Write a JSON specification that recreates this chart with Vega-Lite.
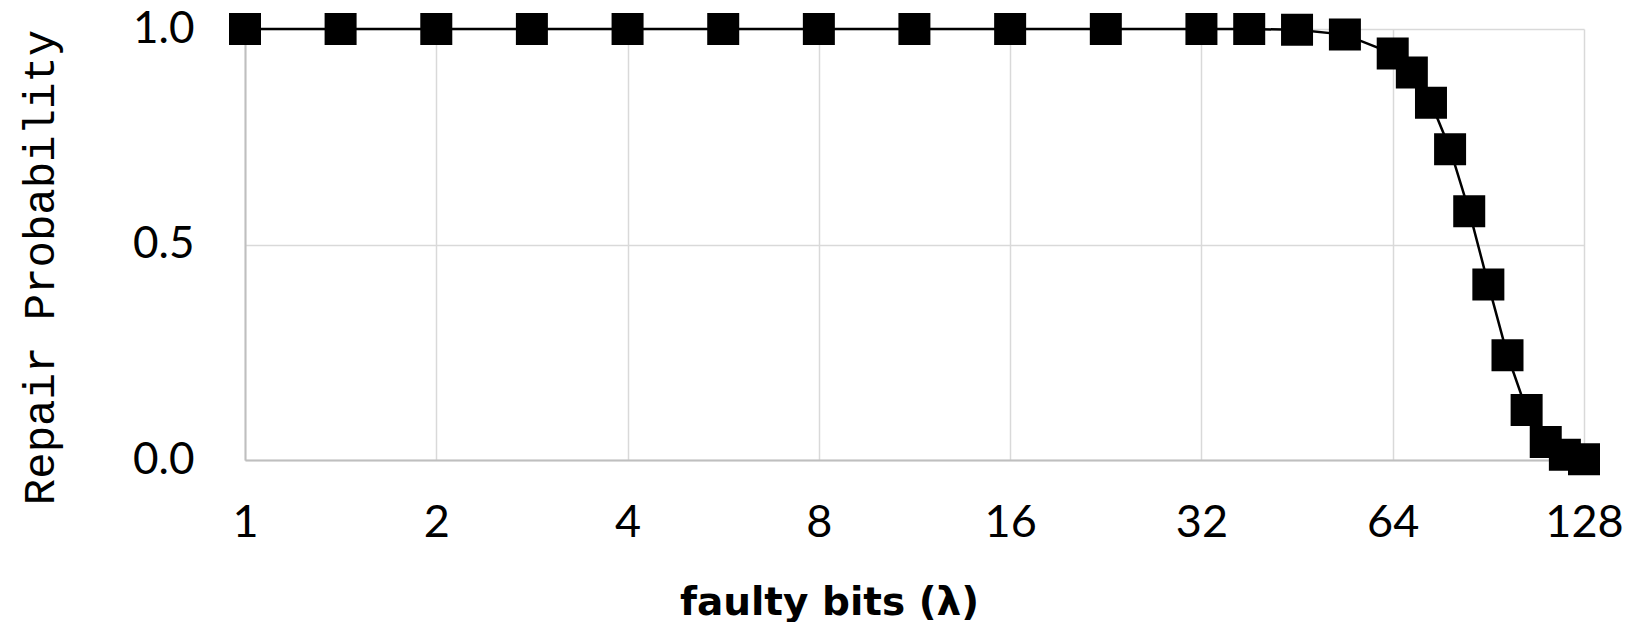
{
  "$schema": "https://vega.github.io/schema/vega-lite/v6.json",
  "width": 1339,
  "height": 431,
  "autosize": {"type": "none"},
  "padding": {"left": 245, "top": 29, "right": 57, "bottom": 162},
  "background": "white",
  "config": {"view": {"stroke": null}},
  "data": {"values": [
    {"bits": 1, "p": 1.0},
    {"bits": 1.414, "p": 1.0},
    {"bits": 2, "p": 1.0},
    {"bits": 2.828, "p": 1.0},
    {"bits": 4, "p": 1.0},
    {"bits": 5.657, "p": 1.0},
    {"bits": 8, "p": 1.0},
    {"bits": 11.31, "p": 1.0},
    {"bits": 16, "p": 1.0},
    {"bits": 22.63, "p": 1.0},
    {"bits": 32, "p": 1.0},
    {"bits": 38.05, "p": 1.0},
    {"bits": 45.25, "p": 0.998},
    {"bits": 53.82, "p": 0.987},
    {"bits": 64, "p": 0.943},
    {"bits": 68.59, "p": 0.899},
    {"bits": 73.52, "p": 0.829},
    {"bits": 78.79, "p": 0.721},
    {"bits": 84.45, "p": 0.577},
    {"bits": 90.51, "p": 0.407},
    {"bits": 97.01, "p": 0.243},
    {"bits": 103.97, "p": 0.116},
    {"bits": 111.43, "p": 0.042},
    {"bits": 119.43, "p": 0.012},
    {"bits": 128, "p": 0.002}
  ]},
  "encoding": {
    "x": {
      "field": "bits", "type": "quantitative",
      "scale": {"type": "log", "base": 2, "domain": [1, 128], "nice": false},
      "axis": {
        "values": [1, 2, 4, 8, 16, 32, 64, 128],
        "format": "d",
        "title": "faulty bits (λ)",
        "titleFont": "DejaVu Sans", "titleFontSize": 39, "titleFontWeight": "bold", "titleColor": "black",
        "titleX": 584, "titleY": 142, "titleAlign": "center", "titleBaseline": "middle",
        "labelFont": "Lato", "labelFontSize": 45, "labelColor": "black", "labelPadding": 40,
        "labelFlush": false,
        "ticks": false,
        "grid": true, "gridColor": "#d9d9d9", "gridWidth": 1.5,
        "domainColor": "#bfbfbf", "domainWidth": 2
      }
    },
    "y": {
      "field": "p", "type": "quantitative",
      "scale": {"domain": [0, 1], "nice": false},
      "axis": {
        "values": [0, 0.5, 1],
        "format": ".1f",
        "title": "Repair Probability",
        "titleFont": "Liberation Mono", "titleFontSize": 44, "titleFontWeight": "normal", "titleColor": "black",
        "titleX": -205, "titleY": 238, "titleAlign": "center", "titleBaseline": "middle", "titleAngle": -90,
        "labelFont": "Lato", "labelFontSize": 44, "labelColor": "black", "labelPadding": 51,
        "labelFlush": false,
        "ticks": false,
        "grid": true, "gridColor": "#d9d9d9", "gridWidth": 1.5,
        "domainColor": "#bfbfbf", "domainWidth": 2
      }
    }
  },
  "layer": [
    {"mark": {"type": "line", "color": "black", "strokeWidth": 2.5}},
    {"mark": {"type": "point", "shape": "square", "filled": true, "size": 1024, "color": "black", "opacity": 1}}
  ]
}
